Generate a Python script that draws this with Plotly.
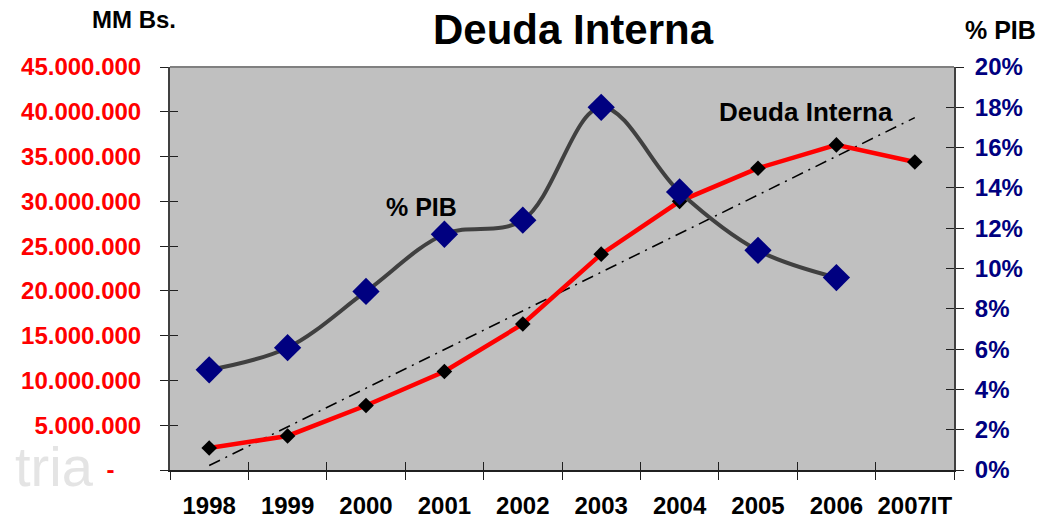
import numpy as np
import plotly.graph_objects as go

years = ["1998", "1999", "2000", "2001", "2002", "2003", "2004", "2005", "2006", "2007IT"]
deuda = [2.46e6, 3.8e6, 7.2e6, 11.0e6, 16.3e6, 24.1e6, 30.0e6, 33.7e6, 36.3e6, 34.4e6]
pib_years = ["1998", "1999", "2000", "2001", "2002", "2003", "2004", "2005", "2006"]
pib = [4.97, 6.07, 8.86, 11.7, 12.4, 18.0, 13.8, 10.9, 9.55]
left_ticks = [0, 5e6, 10e6, 15e6, 20e6, 25e6, 30e6, 35e6, 40e6, 45e6]
left_text = ["-\u00a0\u00a0\u00a0\u00a0", "5.000.000", "10.000.000", "15.000.000",
             "20.000.000", "25.000.000", "30.000.000", "35.000.000", "40.000.000",
             "45.000.000"]
right_ticks = list(range(0, 21, 2))
right_text = [f"{v}%" for v in right_ticks]

FONT = 'Arial, "Liberation Sans", sans-serif'

idx = np.arange(len(deuda))
slope, intercept = np.polyfit(idx, deuda, 1)
trend = list(intercept + slope * idx)

fig = go.Figure()
fig.add_trace(go.Scatter(x=years, y=trend, mode="lines",
                         line=dict(color="black", width=1.5, dash="12px,6px,2px,6px"),
                         hoverinfo="skip", showlegend=False))
fig.add_trace(go.Scatter(x=years, y=deuda, mode="lines+markers",
                         line=dict(color="#FF0000", width=4.5),
                         marker=dict(symbol="diamond", size=12, color="black"),
                         showlegend=False))
fig.add_trace(go.Scatter(x=pib_years, y=pib, mode="lines+markers", yaxis="y2",
                         line=dict(color="#404040", width=4, shape="spline", smoothing=1.0),
                         marker=dict(symbol="diamond", size=21, color="#000080"),
                         showlegend=False))

fig.update_layout(
    width=1053, height=519,
    margin=dict(l=170, r=99, t=67, b=49, autoexpand=False),
    paper_bgcolor="white", plot_bgcolor="#C0C0C0",
    font=dict(family=FONT),
    xaxis=dict(type="category", categoryorder="array", categoryarray=years,
               range=[-0.5, 9.5], showgrid=False, zeroline=False, automargin=False,
               showline=True, linecolor="#202020", linewidth=2,
               ticks="outside", ticklen=8, tickwidth=1, tickcolor="#202020",
               tickson="boundaries", ticklabelstandoff=13, tickangle=0,
               tickfont=dict(family=FONT, size=24, color="black", weight="bold")),
    xaxis2=dict(type="category", categoryorder="array", categoryarray=years,
                range=[-0.5, 9.5], overlaying="x", matches="x", showgrid=False,
                zeroline=False, showline=False, ticks="inside", ticklen=8,
                automargin=False,
                tickcolor="#202020", tickson="boundaries", showticklabels=False),
    yaxis=dict(range=[0, 45e6], tickvals=left_ticks, ticktext=left_text,
               showgrid=False, zeroline=False, showline=True, linecolor="#404040",
               linewidth=2, ticks="outside", ticklen=8, tickcolor="#202020",
               ticklabelstandoff=14, automargin=False,
               tickfont=dict(family=FONT, size=24, color="#FF0000", weight="bold")),
    yaxis2=dict(range=[0, 20], tickvals=right_ticks, ticktext=right_text,
                overlaying="y", side="right", showgrid=False, zeroline=False,
                showline=True, linecolor="#404040", linewidth=2,
                ticks="outside", ticklen=8, tickcolor="#202020",
                ticklabelstandoff=6, automargin=False,
                tickfont=dict(family=FONT, size=24, color="#000080", weight="bold")),
    yaxis3=dict(range=[0, 45e6], tickvals=left_ticks, overlaying="y", side="left",
                showgrid=False, zeroline=False, showline=False, ticks="inside",
                ticklen=8, tickcolor="#202020", showticklabels=False, automargin=False),
    yaxis4=dict(range=[0, 20], tickvals=right_ticks, overlaying="y", side="right",
                showgrid=False, zeroline=False, showline=False, ticks="inside",
                ticklen=8, tickcolor="#202020", showticklabels=False, automargin=False),
)
# invisible traces to activate the inside-tick overlay axes
fig.add_trace(go.Scatter(x=[years[0]], y=[None], xaxis="x2", yaxis="y3",
                         showlegend=False, hoverinfo="skip"))
fig.add_trace(go.Scatter(x=[years[0]], y=[None], xaxis="x2", yaxis="y4",
                         showlegend=False, hoverinfo="skip"))

fig.add_shape(type="line", xref="paper", yref="paper", x0=0, x1=1, y0=1, y1=1,
              line=dict(color="#808080", width=2))

def ann(text, x, y, size, color="black", bold=True, xanchor="center"):
    fig.add_annotation(text=text, xref="paper", yref="paper", x=x, y=y,
                       xanchor=xanchor, yanchor="middle", showarrow=False,
                       font=dict(family=FONT, size=size, color=color,
                                 weight="bold" if bold else "normal"))

ann("Deuda Interna", 0.515, 1.092, 42)
ann("MM Bs.", -0.046, 1.117, 24)
ann("% PIB", 1.059, 1.092, 25)
ann("% PIB", 0.321, 0.653, 25)
ann("Deuda Interna", 0.811, 0.888, 26)
fig.add_annotation(text="tria", xref="paper", yref="paper", x=(96 - 170) / 784,
                   y=(470 - 466) / 403, xanchor="right", yanchor="middle",
                   showarrow=False,
                   font=dict(family=FONT, size=56, color="#E4E4E4"))

fig.write_html("out.html",
               config={"displayModeBar": False},
               post_script="document.body.style.margin='0px';"
                           "document.body.style.overflow='hidden';")
